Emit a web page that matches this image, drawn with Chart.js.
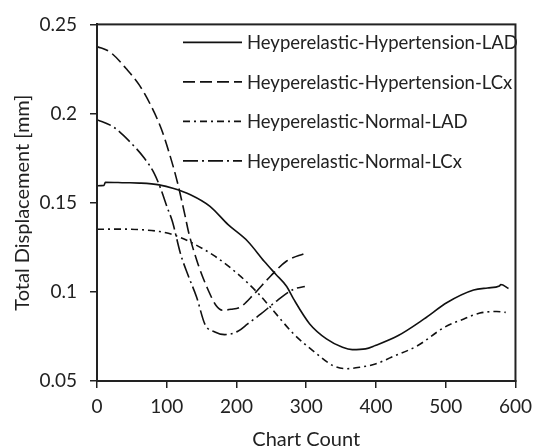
<!DOCTYPE html>
<html>
<head>
<meta charset="utf-8">
<script src="https://cdn.jsdelivr.net/npm/chart.js@4.4.1/dist/chart.umd.min.js"></script>
<style>
  html, body { margin: 0; padding: 0; background: #fff; }
  #wrap { width: 539px; height: 448px; }
</style>
</head>
<body>
<div id="wrap"><canvas id="chart" width="539" height="448"></canvas></div>
<script>
// series labels
const seriesNames = [
  'Heyperelastic-Hypertension-LAD',
  'Heyperelastic-Hypertension-LCx',
  'Heyperelastic-Normal-LAD',
  'Heyperelastic-Normal-LCx'
];

// values (x = chart count, y = displacement in mm)
const hypLadX = [0, 10, 12, 40, 61, 89, 110, 134, 162, 188, 216, 240, 256, 272, 282, 305, 329, 352, 366, 385, 399, 432, 469, 502, 540, 560, 577, 579, 590];
const hypLadY = [0.1595, 0.1597, 0.1615, 0.1612, 0.1610, 0.1600, 0.1580, 0.1545, 0.1480, 0.1377, 0.1284, 0.1170, 0.1100, 0.1030, 0.0959, 0.0820, 0.0736, 0.0689, 0.0676, 0.0680, 0.0699, 0.0755, 0.0848, 0.0940, 0.1010, 0.1022, 0.1033, 0.1041, 0.1019];

const hypLcxX = [0, 19, 42, 61, 77, 92, 103, 115, 127, 131, 145, 160, 171, 180, 192, 206, 225, 249, 272, 298];
const hypLcxY = [0.2376, 0.2344, 0.2251, 0.2158, 0.2047, 0.1916, 0.1786, 0.1619, 0.1414, 0.1340, 0.1154, 0.1005, 0.0922, 0.0897, 0.0902, 0.0916, 0.0987, 0.1089, 0.1173, 0.1216];

const normLadX = [0, 30, 61, 90, 108, 136, 169, 202, 230, 249, 282, 315, 338, 357, 378, 399, 422, 460, 498, 526, 549, 573, 586];
const normLadY = [0.1351, 0.1352, 0.1349, 0.1338, 0.1322, 0.1275, 0.1200, 0.1100, 0.0996, 0.0912, 0.0764, 0.0653, 0.0587, 0.0569, 0.0578, 0.0595, 0.0633, 0.0699, 0.0801, 0.0848, 0.0881, 0.0890, 0.0885];

const normLcxX = [0, 23, 47, 68, 82, 91, 101, 108, 120, 131, 143, 155, 169, 183, 202, 216, 235, 258, 282, 298];
const normLcxY = [0.1966, 0.1926, 0.1842, 0.1749, 0.1665, 0.1582, 0.1470, 0.1396, 0.1210, 0.1089, 0.0968, 0.0816, 0.0775, 0.0760, 0.0779, 0.0820, 0.0876, 0.0950, 0.1015, 0.1030];

// axis ticks
const xTicks = [0, 100, 200, 300, 400, 500, 600];
const yTicks = [0.05, 0.1, 0.15, 0.2, 0.25];

const FONT = 'Lato, "Open Sans", sans-serif';
const INK = '#222';

const pts = (xs, ys) => xs.map((x, i) => ({ x: x, y: ys[i] }));

const dashes = [[], [12, 5], [7, 4, 2, 4], [15, 4, 2, 4]];
const allX = [hypLadX, hypLcxX, normLadX, normLcxX];
const allY = [hypLadY, hypLcxY, normLadY, normLcxY];

const datasets = seriesNames.map((name, i) => ({
  label: name,
  data: pts(allX[i], allY[i]),
  borderColor: '#111',
  borderWidth: 1.6,
  borderDash: dashes[i],
  pointRadius: 0,
  fill: false,
  cubicInterpolationMode: 'monotone'
}));

// box around the plot + legend drawn inside the chart area
const framePlugin = {
  id: 'frame',
  afterDraw(chart) {
    const { ctx, chartArea: a } = chart;
    ctx.save();
    ctx.strokeStyle = INK;
    ctx.lineWidth = 2;
    ctx.strokeRect(a.left, a.top, a.right - a.left, a.bottom - a.top);

    // legend
    const x0 = a.left + 86, x1 = a.left + 145, tx = a.left + 150;
    ctx.font = '18.5px ' + FONT;
    ctx.textBaseline = 'middle';
    chart.data.datasets.forEach((ds, i) => {
      const y = a.top + 18 + i * 39.5;
      ctx.beginPath();
      ctx.setLineDash(ds.borderDash);
      ctx.lineWidth = 1.6;
      ctx.strokeStyle = '#111';
      ctx.moveTo(x0, y);
      ctx.lineTo(x1, y);
      ctx.stroke();
      ctx.setLineDash([]);
      ctx.fillStyle = INK;
      ctx.fillText(ds.label, tx, y + 1);
    });
    ctx.restore();
  }
};

new Chart(document.getElementById('chart'), {
  type: 'line',
  data: { datasets: datasets },
  plugins: [framePlugin],
  options: {
    responsive: false,
    animation: false,
    layout: { padding: { left: 0, right: 16, top: 22, bottom: 0 } },
    plugins: { legend: { display: false }, tooltip: { enabled: false } },
    scales: {
      x: {
        type: 'linear',
        min: 0,
        max: 600,
        afterBuildTicks: s => { s.ticks = xTicks.map(v => ({ value: v })); },
        afterFit: s => { s.height = 67; },
        grid: { display: true, drawOnChartArea: false, drawTicks: true, tickLength: 7, color: INK, lineWidth: 1.5 },
        border: { display: true, color: INK, width: 2 },
        ticks: { color: INK, font: { family: FONT, size: 19 }, padding: 7, maxRotation: 0 },
        title: { display: true, text: 'Chart Count', color: INK, font: { family: FONT, size: 20, lineHeight: 0.8 }, padding: { top: 0, bottom: 0 } }
      },
      y: {
        min: 0.05,
        max: 0.25,
        afterBuildTicks: s => { s.ticks = yTicks.map(v => ({ value: v })); },
        afterFit: s => { s.width = 97; },
        grid: { display: true, drawOnChartArea: false, drawTicks: true, tickLength: 7, color: INK, lineWidth: 1.5 },
        border: { display: true, color: INK, width: 2 },
        ticks: { color: INK, font: { family: FONT, size: 19 }, padding: 13, callback: v => String(+v.toFixed(2)) },
        title: { display: true, text: 'Total Displacement [mm]', color: INK, font: { family: FONT, size: 20 }, padding: { top: 10.5, bottom: 0 } }
      }
    }
  }
});
</script>
</body>
</html>
